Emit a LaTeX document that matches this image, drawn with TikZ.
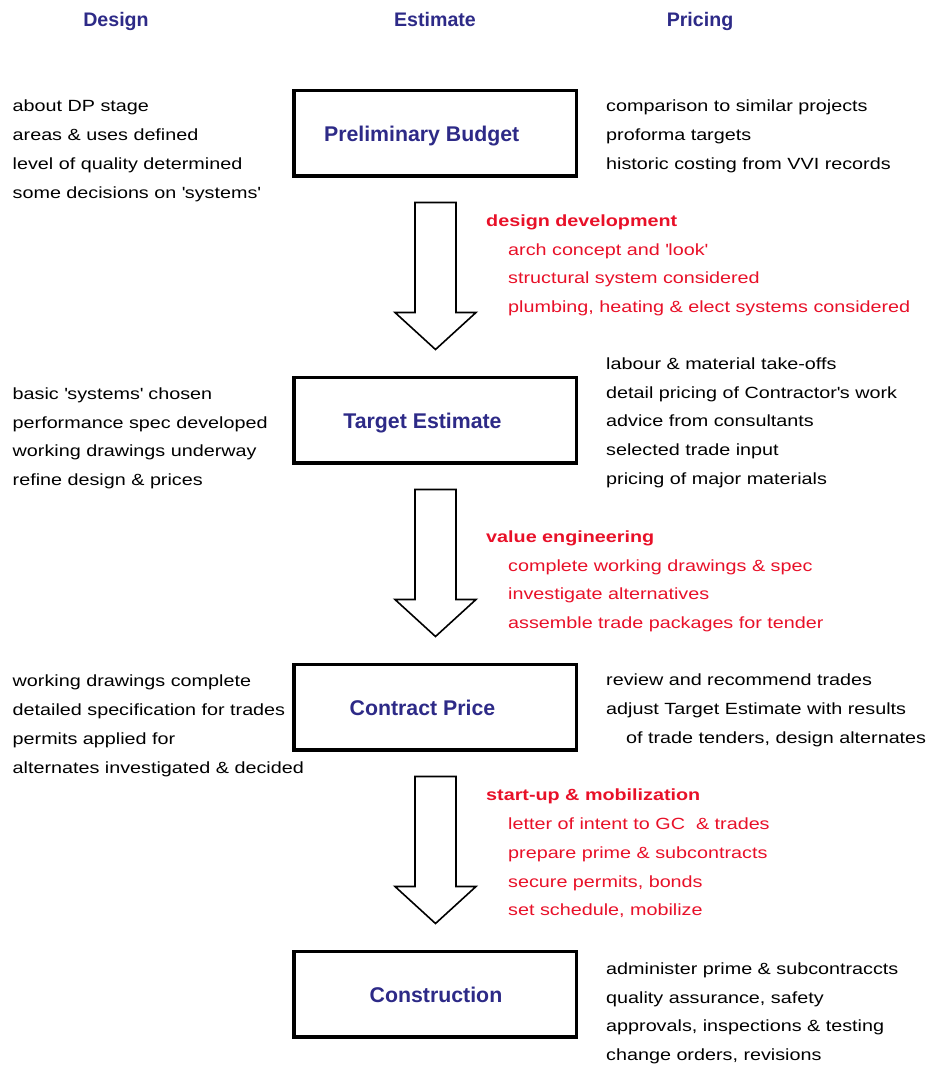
\documentclass[tikz,border=0pt]{standalone}
\usepackage{fontspec}
\setmainfont{Liberation Sans}
\newfontfamily\bodyfont{Liberation Sans}[FakeStretch=1.22]
\usepackage{xcolor}
\definecolor{hdblue}{RGB}{45,42,135}
\definecolor{stepred}{RGB}{232,16,40}
\newcommand{\tq}{\textquotesingle}
\usepackage{tikz}
\usetikzlibrary{calc}

\begin{document}
\begin{tikzpicture}[x=1pt, y=-1pt,
    phase/.style={draw, line width=3.5pt, minimum width=282.5pt, minimum height=85.5pt, inner sep=0pt},
    title/.style={anchor=base, text=hdblue, font=\fontsize{21.3}{25}\selectfont\bfseries},
    colhead/.style={anchor=base, text=hdblue, font=\fontsize{19.6}{23}\selectfont\bfseries},
    notes/.style={anchor=north west, align=left, inner sep=0pt, font=\bodyfont\fontsize{16.2}{28.7}\selectfont, execute at begin node=\strut},
    todo/.style={notes, text=stepred},
    downarrow/.pic={\draw[line width=1.6pt] (-20.5,0) -- (20.5,0) -- (20.5,110) -- (40.5,110) -- (0,147) -- (-40.5,110) -- (-20.5,110) -- cycle;}]
  \useasboundingbox (0,0) rectangle (932,1066);
  \node[colhead] (hdsg) at (116, 26) {Design};
  \node[colhead] (hest) at (435, 26) {Estimate};
  \node[colhead] (hprc) at (700, 26) {Pricing};
  \node[phase] (b1) at (435, 133) {};
  \node[phase] (b2) at (435, 420) {};
  \node[phase] (b3) at (435, 707) {};
  \node[phase] (b4) at (435, 994) {};
  \node[title] (t1) at (421.7, 141.7) {Preliminary Budget};
  \node[title] (t2) at (422.5, 428.7) {Target Estimate};
  \node[title] (t3) at (422.5, 715.7) {Contract Price};
  \node[title] (t4) at (436, 1002.5)  {Construction};
  \foreach \a in {b1, b2, b3}
    \pic at ($(\a.south)+(0.5,25)$) {downarrow};
  \node[notes] (dsg1) at (12.5, 100)
    {about DP stage\\ areas \& uses defined\\ level of quality determined\\ some decisions on \tq systems\tq};
  \node[notes] (prc1) at (606, 100)
    {comparison to similar projects\\ proforma targets\\ historic costing from VVI records};
  \node[todo] (dev1) at (486, 214.5)
    {\textbf{design development}\\
     \hspace*{22pt}arch concept and \tq look\tq\\
     \hspace*{22pt}structural system considered\\
     \hspace*{22pt}plumbing, heating \& elect systems considered};
  \node[notes] (dsg2) at (12.5, 387.5)
    {basic \tq systems\tq{} chosen\\ performance spec developed\\ working drawings underway\\ refine design \& prices};
  \node[notes] (prc2) at (606, 357.5)
    {labour \& material take-offs\\ detail pricing of Contractor\tq s work\\ advice from consultants\\ selected trade input\\ pricing of major materials};
  \node[todo] (dev2) at (486, 530.5)
    {\textbf{value engineering}\\
     \hspace*{22pt}complete working drawings \& spec\\
     \hspace*{22pt}investigate alternatives\\
     \hspace*{22pt}assemble trade packages for tender};
  \node[notes] (dsg3) at (12.5, 675)
    {working drawings complete\\ detailed specification for trades\\ permits applied for\\ alternates investigated \& decided};
  \node[notes] (prc3) at (606, 674)
    {review and recommend trades\\ adjust Target Estimate with results\\ \hspace*{20pt}of trade tenders, design alternates};
  \node[todo] (dev3) at (486, 789)
    {\textbf{start-up \& mobilization}\\
     \hspace*{22pt}letter of intent to GC \ \& trades\\
     \hspace*{22pt}prepare prime \& subcontracts\\
     \hspace*{22pt}secure permits, bonds\\
     \hspace*{22pt}set schedule, mobilize};
  \node[notes] (prc4) at (606, 962.5)
    {administer prime \& subcontraccts\\ quality assurance, safety\\ approvals, inspections \& testing\\ change orders, revisions};
\end{tikzpicture}
\end{document}
